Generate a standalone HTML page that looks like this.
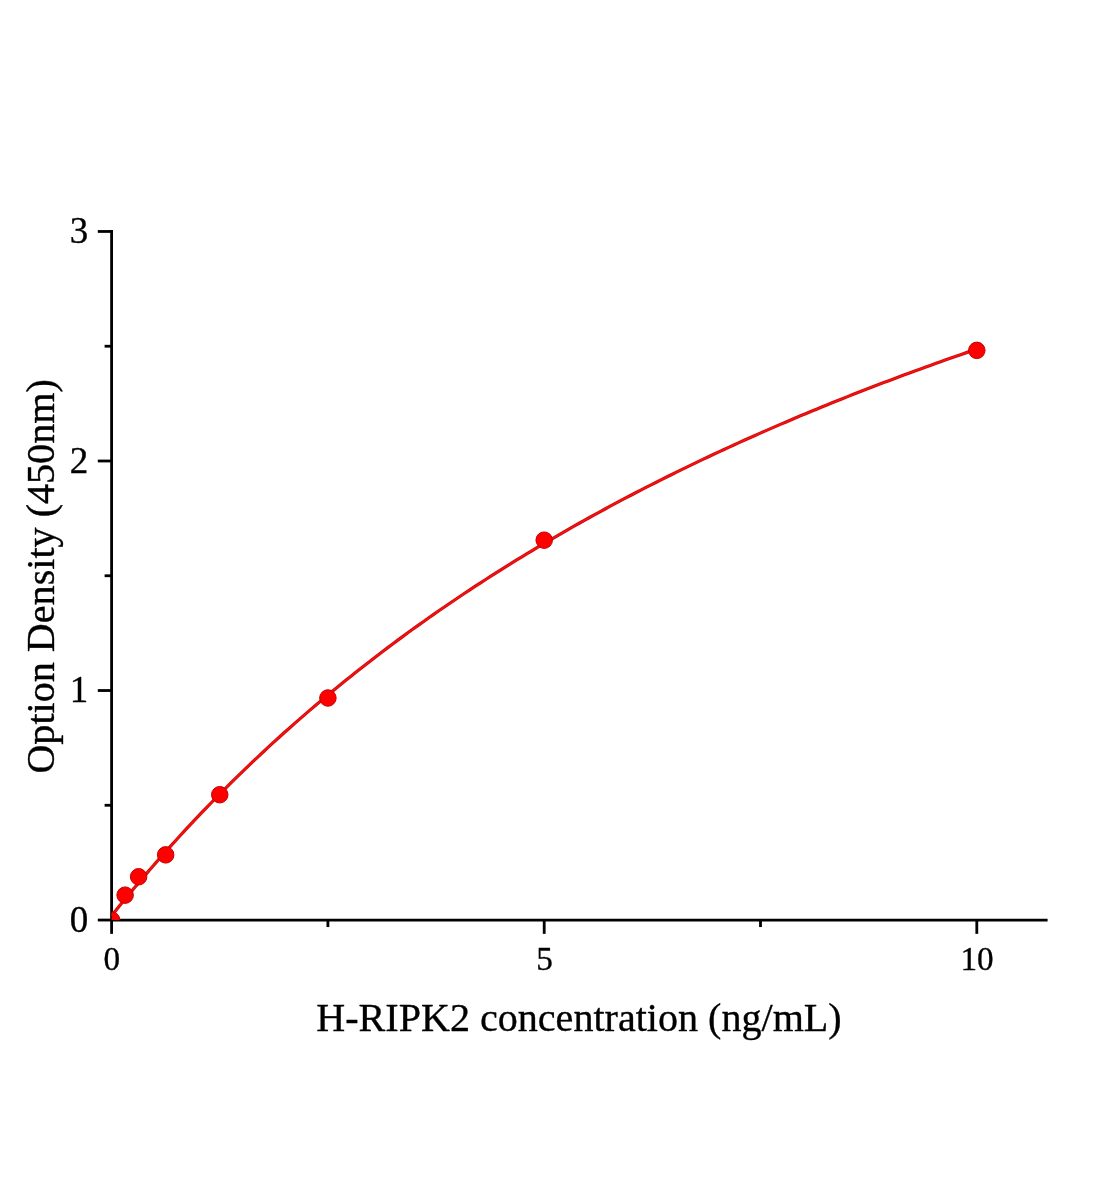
<!DOCTYPE html>
<html><head><meta charset="utf-8"><title>H-RIPK2 standard curve</title>
<style>
html,body{margin:0;padding:0;background:#fff;}
body{width:1104px;height:1200px;overflow:hidden;}
svg{display:block;will-change:transform;}
text{font-family:"Liberation Serif",serif;fill:#000;stroke:#000;stroke-width:0.35px;stroke-linejoin:round;}
</style></head><body>
<svg width="1104" height="1200" viewBox="0 0 1104 1200">
<rect width="1104" height="1200" fill="#fff"/>
<defs><clipPath id="plot"><rect x="111.6" y="0" width="1000" height="920.05"/></clipPath></defs>
<g stroke="#000" stroke-width="2.8" fill="none" stroke-linecap="butt">
<path d="M111.6,230.06 V920.05"/>
<path d="M111.6,920.05 H1047.6"/>
<path d="M97.80,920.05 H111.60"/>
<path d="M97.80,690.52 H111.60"/>
<path d="M97.80,460.99 H111.60"/>
<path d="M97.80,231.46 H111.60"/>
<path d="M104.60,805.28 H111.60"/>
<path d="M104.60,575.75 H111.60"/>
<path d="M104.60,346.22 H111.60"/>
<path d="M111.60,920.05 V933.85"/>
<path d="M544.20,920.05 V933.85"/>
<path d="M976.80,920.05 V933.85"/>
<path d="M327.90,920.05 V927.05"/>
<path d="M760.50,920.05 V927.05"/>
</g>
<g clip-path="url(#plot)"><path d="M111.60,915.69 L112.71,914.31 L113.82,912.93 L114.93,911.56 L116.04,910.18 L117.15,908.81 L118.26,907.44 L119.36,906.08 L120.47,904.71 L121.58,903.35 L122.69,902.00 L123.80,900.64 L124.91,899.29 L126.02,897.94 L127.13,896.60 L128.24,895.26 L129.35,893.92 L130.46,892.58 L131.57,891.25 L132.68,889.92 L133.78,888.59 L134.89,887.27 L136.00,885.94 L137.11,884.63 L138.22,883.31 L139.33,882.00 L140.44,880.69 L141.55,879.38 L142.66,878.08 L143.77,876.77 L144.88,875.48 L145.99,874.18 L147.10,872.89 L148.20,871.60 L149.31,870.31 L150.42,869.03 L151.53,867.75 L152.64,866.47 L153.75,865.19 L154.86,863.92 L160.03,858.03 L165.20,852.19 L170.37,846.42 L175.54,840.70 L180.71,835.04 L185.88,829.44 L191.05,823.90 L196.22,818.41 L201.38,812.97 L206.55,807.59 L211.72,802.26 L216.89,796.98 L222.06,791.76 L227.23,786.58 L232.40,781.46 L237.57,776.38 L242.74,771.36 L247.91,766.38 L253.08,761.45 L258.25,756.56 L263.42,751.72 L268.59,746.93 L273.76,742.18 L278.93,737.47 L284.10,732.81 L289.27,728.19 L294.43,723.62 L299.60,719.08 L304.77,714.59 L309.94,710.13 L315.11,705.72 L320.28,701.35 L325.45,697.01 L330.62,692.72 L335.79,688.46 L340.96,684.24 L346.13,680.06 L351.30,675.91 L356.47,671.80 L361.64,667.72 L366.81,663.68 L371.98,659.67 L377.15,655.70 L382.32,651.77 L387.48,647.86 L392.65,643.99 L397.82,640.15 L402.99,636.34 L408.16,632.57 L413.33,628.82 L418.50,625.11 L423.67,621.43 L428.84,617.78 L434.01,614.15 L439.18,610.56 L444.35,607.00 L449.52,603.46 L454.69,599.95 L459.86,596.48 L465.03,593.03 L470.20,589.60 L475.36,586.21 L480.53,582.84 L485.70,579.49 L490.87,576.17 L496.04,572.88 L501.21,569.62 L506.38,566.38 L511.55,563.16 L516.72,559.97 L521.89,556.80 L527.06,553.66 L532.23,550.54 L537.40,547.45 L542.57,544.38 L547.74,541.33 L552.91,538.30 L558.08,535.30 L563.25,532.32 L568.41,529.36 L573.58,526.42 L578.75,523.50 L583.92,520.61 L589.09,517.73 L594.26,514.88 L599.43,512.05 L604.60,509.24 L609.77,506.45 L614.94,503.68 L620.11,500.92 L625.28,498.19 L630.45,495.48 L635.62,492.78 L640.79,490.11 L645.96,487.45 L651.13,484.82 L656.30,482.20 L661.46,479.59 L666.63,477.01 L671.80,474.45 L676.97,471.90 L682.14,469.37 L687.31,466.85 L692.48,464.36 L697.65,461.88 L702.82,459.42 L707.99,456.97 L713.16,454.54 L718.33,452.13 L723.50,449.73 L728.67,447.35 L733.84,444.98 L739.01,442.63 L744.18,440.30 L749.34,437.98 L754.51,435.67 L759.68,433.39 L764.85,431.11 L770.02,428.85 L775.19,426.61 L780.36,424.38 L785.53,422.16 L790.70,419.96 L795.87,417.77 L801.04,415.59 L806.21,413.43 L811.38,411.29 L816.55,409.15 L821.72,407.03 L826.89,404.92 L832.06,402.83 L837.23,400.75 L842.39,398.68 L847.56,396.63 L852.73,394.58 L857.90,392.55 L863.07,390.54 L868.24,388.53 L873.41,386.54 L878.58,384.56 L883.75,382.59 L888.92,380.63 L894.09,378.68 L899.26,376.75 L904.43,374.83 L909.60,372.91 L914.77,371.01 L919.94,369.13 L925.11,367.25 L930.28,365.38 L935.44,363.53 L940.61,361.68 L945.78,359.85 L950.95,358.02 L956.12,356.21 L961.29,354.41 L966.46,352.62 L971.63,350.84 L976.80,349.06" fill="none" stroke="#d60606" stroke-width="3.2" stroke-linejoin="round"/><path d="M111.60,915.69 L112.71,914.31 L113.82,912.93 L114.93,911.56 L116.04,910.18 L117.15,908.81 L118.26,907.44 L119.36,906.08 L120.47,904.71 L121.58,903.35 L122.69,902.00 L123.80,900.64 L124.91,899.29 L126.02,897.94 L127.13,896.60 L128.24,895.26 L129.35,893.92 L130.46,892.58 L131.57,891.25 L132.68,889.92 L133.78,888.59 L134.89,887.27 L136.00,885.94 L137.11,884.63 L138.22,883.31 L139.33,882.00 L140.44,880.69 L141.55,879.38 L142.66,878.08 L143.77,876.77 L144.88,875.48 L145.99,874.18 L147.10,872.89 L148.20,871.60 L149.31,870.31 L150.42,869.03 L151.53,867.75 L152.64,866.47 L153.75,865.19 L154.86,863.92 L160.03,858.03 L165.20,852.19 L170.37,846.42 L175.54,840.70 L180.71,835.04 L185.88,829.44 L191.05,823.90 L196.22,818.41 L201.38,812.97 L206.55,807.59 L211.72,802.26 L216.89,796.98 L222.06,791.76 L227.23,786.58 L232.40,781.46 L237.57,776.38 L242.74,771.36 L247.91,766.38 L253.08,761.45 L258.25,756.56 L263.42,751.72 L268.59,746.93 L273.76,742.18 L278.93,737.47 L284.10,732.81 L289.27,728.19 L294.43,723.62 L299.60,719.08 L304.77,714.59 L309.94,710.13 L315.11,705.72 L320.28,701.35 L325.45,697.01 L330.62,692.72 L335.79,688.46 L340.96,684.24 L346.13,680.06 L351.30,675.91 L356.47,671.80 L361.64,667.72 L366.81,663.68 L371.98,659.67 L377.15,655.70 L382.32,651.77 L387.48,647.86 L392.65,643.99 L397.82,640.15 L402.99,636.34 L408.16,632.57 L413.33,628.82 L418.50,625.11 L423.67,621.43 L428.84,617.78 L434.01,614.15 L439.18,610.56 L444.35,607.00 L449.52,603.46 L454.69,599.95 L459.86,596.48 L465.03,593.03 L470.20,589.60 L475.36,586.21 L480.53,582.84 L485.70,579.49 L490.87,576.17 L496.04,572.88 L501.21,569.62 L506.38,566.38 L511.55,563.16 L516.72,559.97 L521.89,556.80 L527.06,553.66 L532.23,550.54 L537.40,547.45 L542.57,544.38 L547.74,541.33 L552.91,538.30 L558.08,535.30 L563.25,532.32 L568.41,529.36 L573.58,526.42 L578.75,523.50 L583.92,520.61 L589.09,517.73 L594.26,514.88 L599.43,512.05 L604.60,509.24 L609.77,506.45 L614.94,503.68 L620.11,500.92 L625.28,498.19 L630.45,495.48 L635.62,492.78 L640.79,490.11 L645.96,487.45 L651.13,484.82 L656.30,482.20 L661.46,479.59 L666.63,477.01 L671.80,474.45 L676.97,471.90 L682.14,469.37 L687.31,466.85 L692.48,464.36 L697.65,461.88 L702.82,459.42 L707.99,456.97 L713.16,454.54 L718.33,452.13 L723.50,449.73 L728.67,447.35 L733.84,444.98 L739.01,442.63 L744.18,440.30 L749.34,437.98 L754.51,435.67 L759.68,433.39 L764.85,431.11 L770.02,428.85 L775.19,426.61 L780.36,424.38 L785.53,422.16 L790.70,419.96 L795.87,417.77 L801.04,415.59 L806.21,413.43 L811.38,411.29 L816.55,409.15 L821.72,407.03 L826.89,404.92 L832.06,402.83 L837.23,400.75 L842.39,398.68 L847.56,396.63 L852.73,394.58 L857.90,392.55 L863.07,390.54 L868.24,388.53 L873.41,386.54 L878.58,384.56 L883.75,382.59 L888.92,380.63 L894.09,378.68 L899.26,376.75 L904.43,374.83 L909.60,372.91 L914.77,371.01 L919.94,369.13 L925.11,367.25 L930.28,365.38 L935.44,363.53 L940.61,361.68 L945.78,359.85 L950.95,358.02 L956.12,356.21 L961.29,354.41 L966.46,352.62 L971.63,350.84 L976.80,349.06" fill="none" stroke="#ee1414" stroke-width="1.7" stroke-linejoin="round"/>
<circle cx="111.60" cy="920.05" r="8.25" fill="#ff0000" stroke="#c40000" stroke-width="1"/>
<circle cx="125.12" cy="895.15" r="8.25" fill="#ff0000" stroke="#c40000" stroke-width="1"/>
<circle cx="138.64" cy="876.76" r="8.25" fill="#ff0000" stroke="#c40000" stroke-width="1"/>
<circle cx="165.67" cy="854.86" r="8.25" fill="#ff0000" stroke="#c40000" stroke-width="1"/>
<circle cx="219.75" cy="794.73" r="8.25" fill="#ff0000" stroke="#c40000" stroke-width="1"/>
<circle cx="327.90" cy="698.00" r="8.25" fill="#ff0000" stroke="#c40000" stroke-width="1"/>
<circle cx="544.20" cy="540.18" r="8.25" fill="#ff0000" stroke="#c40000" stroke-width="1"/>
<circle cx="976.80" cy="350.36" r="8.25" fill="#ff0000" stroke="#c40000" stroke-width="1"/>
</g>
<text transform="translate(88.2,931.65) scale(0.96,1)" font-size="38.5" text-anchor="end">0</text>
<text transform="translate(88.2,702.12) scale(0.96,1)" font-size="38.5" text-anchor="end">1</text>
<text transform="translate(88.2,472.59) scale(0.96,1)" font-size="38.5" text-anchor="end">2</text>
<text transform="translate(88.2,243.06) scale(0.96,1)" font-size="38.5" text-anchor="end">3</text>
<text transform="translate(111.90,969.8) scale(0.96,1)" font-size="34.6" text-anchor="middle">0</text>
<text transform="translate(544.50,969.8) scale(0.96,1)" font-size="34.6" text-anchor="middle">5</text>
<text transform="translate(977.10,969.8) scale(0.96,1)" font-size="34.6" text-anchor="middle">10</text>
<text x="316.3" y="1031.4" font-size="40.08">H-RIPK2 concentration (ng/mL)</text>
<text transform="translate(54.1,773.6) rotate(-90)" font-size="40.11">Option Density (450nm)</text>
</svg></body></html>
